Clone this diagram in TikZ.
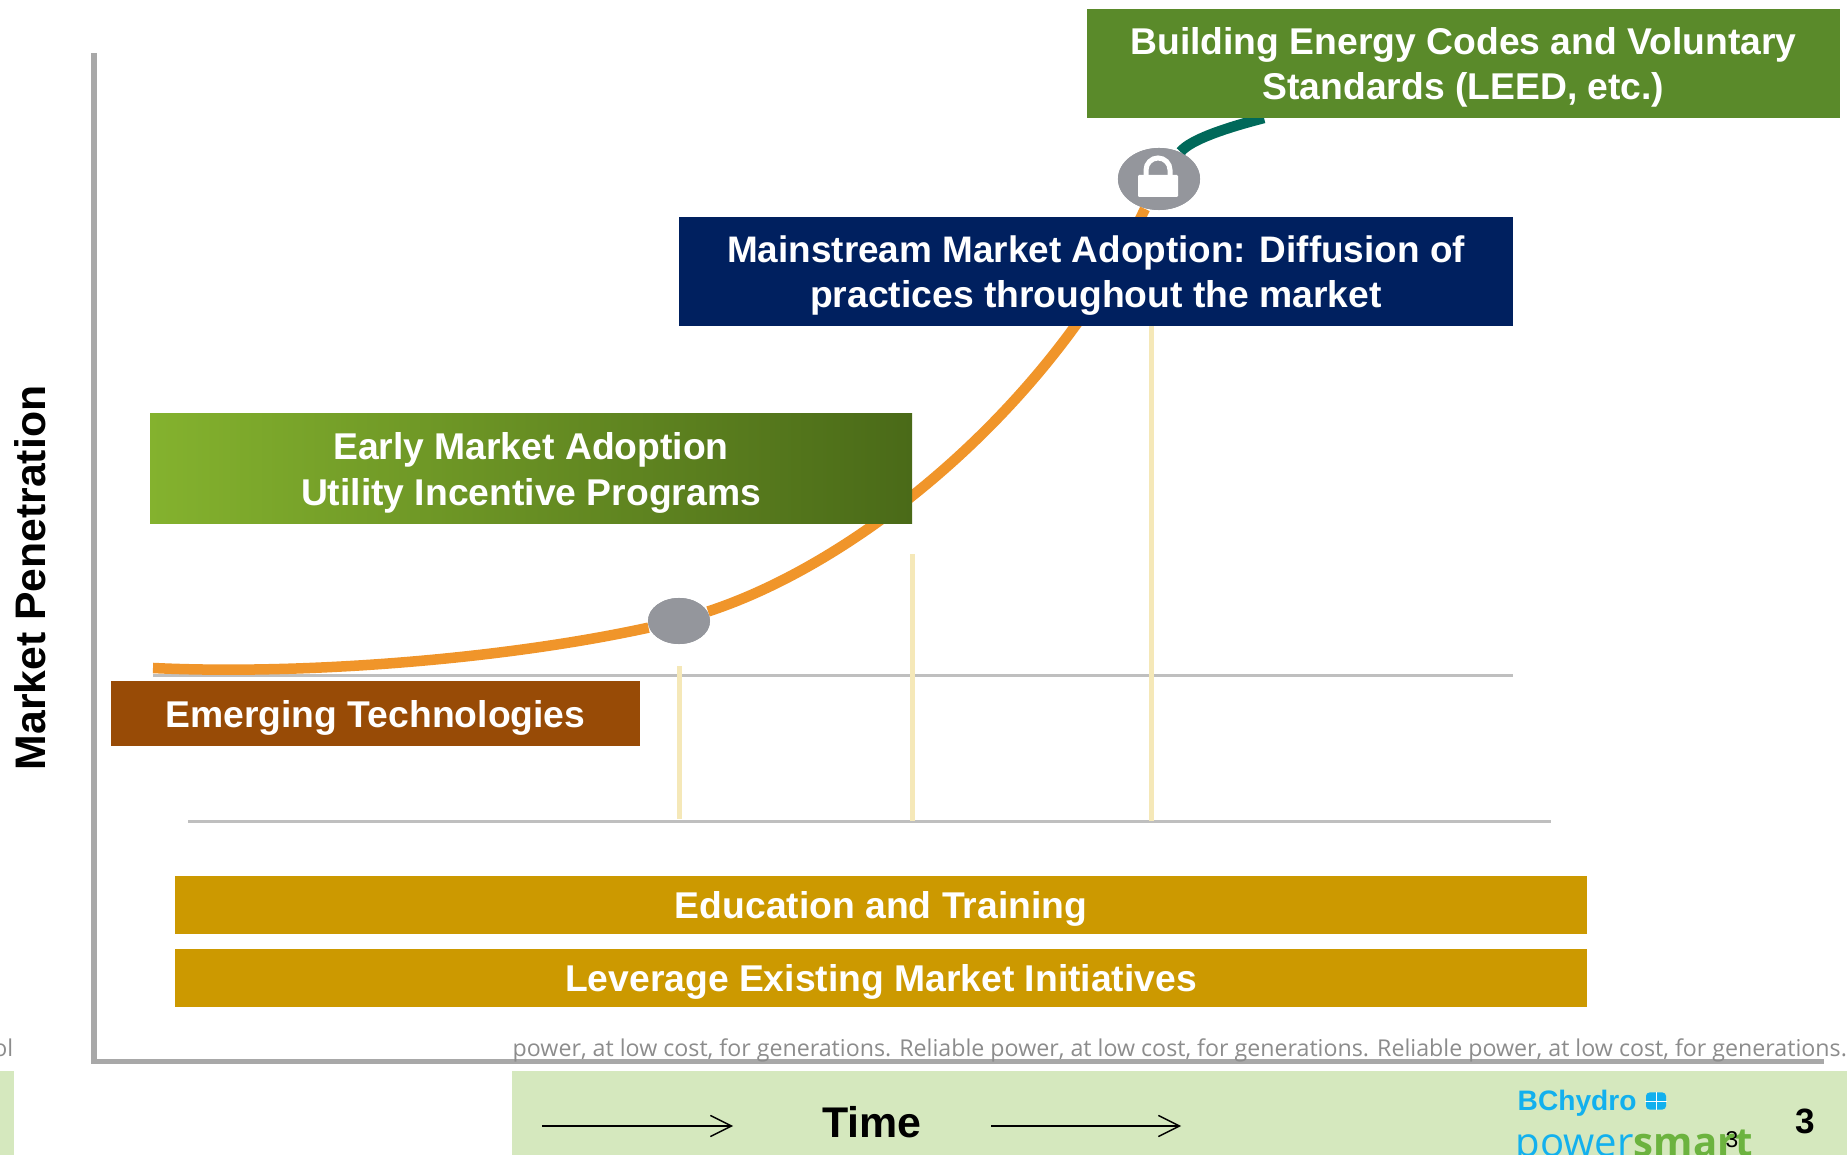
\documentclass[tikz,border=0pt]{standalone}
\usepackage{fontspec}
\setmainfont{Liberation Sans}
\newfontfamily\tagfont{Open Sans}
\usepackage{xcolor}
\usetikzlibrary{arrows.meta}
\usetikzlibrary{shapes.geometric}
\definecolor{LeafGreen}{HTML}{5A8A2A}
\definecolor{EarlyLeft}{HTML}{84B22E}
\definecolor{EarlyRight}{HTML}{4A6A18}
\definecolor{DeepNavy}{HTML}{00205F}
\definecolor{RustBrown}{HTML}{984B06}
\definecolor{GoldBar}{HTML}{CC9900}
\definecolor{PaleGreen}{HTML}{D5E8BE}
\definecolor{CurveOrange}{HTML}{F0952A}
\definecolor{CurveTeal}{HTML}{00695A}
\definecolor{CreamLine}{HTML}{F5E8B8}
\definecolor{AxisGray}{HTML}{A8A8A8}
\definecolor{DotGray}{HTML}{94969C}
\definecolor{LogoBlue}{HTML}{12B0EE}
\definecolor{LogoGreen}{HTML}{6CB33F}
\tikzset{
	phasebox/.style={inner sep=0pt,text=white,align=center,text depth=0pt,font=\fontsize{10.6}{12.9}\selectfont\bfseries},
	dotnode/.style={ellipse,fill=DotGray,inner sep=0pt},
	curveline/.style={line width=0.105cm},
	guideline/.style={line width=0.05cm,CreamLine},
	baseline/.style={line width=0.03cm,black!25},
	timearrow/.style={line width=0.4pt,-{Straight Barb[length=6pt,width=6pt]}}
}
\begin{document}
\begin{tikzpicture}[x=0.01cm,y=-0.01cm]
	\clip (0,0) rectangle (1847,1155);

	\fill[PaleGreen] (0,1071) rectangle (14,1155);
	\fill[PaleGreen] (512,1071) rectangle (1847,1155);

	\coordinate (axistop) at (94,53);
	\coordinate (axiscorner) at (94,1062);
	\coordinate (axisend) at (1824,1062);
	\coordinate (curvestart) at (153,668);
	\coordinate (curveend) at (1264,118);
	\coordinate (midleft) at (153,676);
	\coordinate (midright) at (1513,676);
	\coordinate (lowleft) at (188,822);
	\coordinate (lowright) at (1551,822);
	\coordinate (guideA) at (679,666);
	\coordinate (guideAb) at (679,819);
	\coordinate (guideB) at (912,554);
	\coordinate (guideBb) at (912,821);
	\coordinate (guideC) at (1151,326);
	\coordinate (guideCb) at (1151,821);

	\draw[baseline] (midleft) -- (midright);
	\draw[baseline] (lowleft) -- (lowright);
	\draw[guideline] (guideA) -- (guideAb);
	\draw[guideline] (guideB) -- (guideBb);
	\draw[guideline] (guideC) -- (guideCb);

	\node[dotnode,minimum width=0.62cm,minimum height=0.46cm] (dotearly) at (679,621) {};
	\node[dotnode,minimum width=0.82cm,minimum height=0.62cm] (dotlock) at (1159,179) {};
	\draw[curveline,CurveOrange] (curvestart) .. controls (300,675) and (500,660) .. (dotearly);
	\draw[curveline,CurveOrange] (dotearly) .. controls (865,560) and (1055,400) .. (dotlock);
	\draw[curveline,CurveTeal] (dotlock) .. controls (1190,140) and (1225,128) .. (curveend);
	\node[dotnode,minimum width=0.62cm,minimum height=0.46cm] (dotearlytop) at (dotearly) {};
	\node[dotnode,minimum width=0.82cm,minimum height=0.62cm] (dotlocktop) at (dotlock) {};

	\fill[white,rounded corners=0.3pt] (1138,175) rectangle (1178,197);
	\draw[white,line width=0.05cm] (1146,176) -- (1146,170) arc[start angle=180,end angle=0,radius=0.12cm] -- (1170,176);

	\node[phasebox,fill=LeafGreen,minimum width=7.53cm,minimum height=1.09cm] (boxcodes) at (1463.5,63.5) {Building Energy Codes and Voluntary\\Standards (LEED, etc.)};
	\node[phasebox,fill=DeepNavy,minimum width=8.34cm,minimum height=1.09cm] (boxmain) at (1096,271.5) {\fontsize{10.5}{12.9}\selectfont Mainstream Market Adoption: Diffusion of\\practices throughout the market};
	\fill[left color=EarlyLeft,right color=EarlyRight] (150,414) rectangle (912,524);
	\node[phasebox,minimum width=7.62cm,minimum height=1.1cm] (boxearly) at (531,469) {Early Market Adoption\\Utility Incentive Programs};
	\node[phasebox,fill=RustBrown,minimum width=5.29cm,minimum height=0.65cm] (boxemerging) at (375.5,713.5) {Emerging Technologies};
	\node[phasebox,fill=GoldBar,minimum width=14.12cm,minimum height=0.58cm] (boxeducation) at (881,905) {Education and Training};
	\node[phasebox,fill=GoldBar,minimum width=14.12cm,minimum height=0.58cm] (boxleverage) at (881,978) {Leverage Existing Market Initiatives};

	\draw[line width=0.05cm,AxisGray] (axistop) -- (axiscorner) -- (axisend);

	\node[anchor=base east,inner sep=0pt,text=black!45,font=\tagfont\fontsize{6.6}{7}\selectfont] (tagleft) at (14,1057) {ol};
	\node[anchor=base west,inner sep=0pt,text=black!45,font=\tagfont\fontsize{6.6}{7}\selectfont] (tagright) at (512,1057) {power, at low cost, for generations. Reliable power, at low cost, for generations. Reliable power, at low cost, for generations.};

	\node[rotate=90,inner sep=0pt,font=\fontsize{12.15}{13}\selectfont\bfseries] (ylabel) at (30,578) {Market Penetration};
	\node[inner sep=0pt,font=\fontsize{12.2}{13}\selectfont\bfseries] (xlabel) at (872,1122) {Time};
	\coordinate (arrowAa) at (542,1126);
	\coordinate (arrowAb) at (733,1126);
	\coordinate (arrowBa) at (991,1126);
	\coordinate (arrowBb) at (1181,1126);
	\draw[timearrow] (arrowAa) -- (arrowAb);
	\draw[timearrow] (arrowBa) -- (arrowBb);

	\node[anchor=base west,inner sep=0pt,text=LogoBlue,font=\fontsize{8}{9}\selectfont\bfseries] (logotop) at (1517,1110) {BChydro};
	\node[fill=LogoBlue,rounded corners=1pt,minimum width=0.2cm,minimum height=0.17cm,inner sep=0pt] (logomark) at (1656,1101) {};
	\draw[white,line width=0.2pt] (logomark.north) -- (logomark.south);
	\draw[white,line width=0.2pt] (logomark.west) -- (logomark.east);
	\node[anchor=base west,inner sep=0pt,font=\tagfont\fontsize{11.4}{12}\selectfont] (logobottom) at (1515,1157) {\textcolor{LogoBlue}{power}\textcolor{LogoGreen}{\bfseries smart}};
	\node[inner sep=0pt,font=\fontsize{6.5}{8}\selectfont] (pagesmall) at (1732,1140) {3};
	\node[inner sep=0pt,font=\fontsize{10}{12}\selectfont\bfseries] (pagebig) at (1805,1121) {3};
\end{tikzpicture}
\end{document}
